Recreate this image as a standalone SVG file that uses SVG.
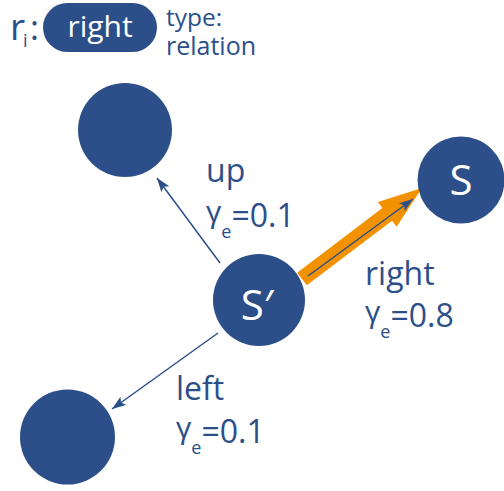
<svg xmlns="http://www.w3.org/2000/svg" width="504" height="491" viewBox="0 0 504 491">
<defs>
<style>
.node{fill:#2c4f8a}
.lbl{font-family:"Open Sans","Liberation Sans",sans-serif;fill:#2c4f8a}
.wt{font-family:"Open Sans","Liberation Sans",sans-serif;fill:#ffffff}
.edge{stroke:#2c4f8a;stroke-width:1.5;fill:none}
</style>
<marker id="ah" markerUnits="userSpaceOnUse" markerWidth="16" markerHeight="12" refX="14" refY="5" orient="auto">
<path d="M0,0 L14,5 L0,10 L3,5 Z" fill="#2c4f8a"/>
</marker>
</defs>
<g id="legend">
<text class="lbl" x="10" y="40" font-size="37">r<tspan x="23" y="47" font-size="18">i</tspan><tspan x="30" y="40" font-size="34">:</tspan></text>
<rect x="43" y="3" width="114" height="49" rx="24.5" class="node"/>
<text class="wt" x="100" y="37" font-size="30" text-anchor="middle">right</text>
<text class="lbl" x="166" y="26" font-size="24.5">type:<tspan x="166" y="55" font-size="25">relation</tspan></text>
</g>
<g id="connectors">
<g id="edge-right-highlight" transform="translate(302,279) rotate(-37.2)">
<polygon points="0,-8 107,-8 107,-15.5 150.6,0 107,15.5 107,8 0,8" fill="#f39200"/>
</g>
<line id="edge-right" class="edge" x1="308" y1="276" x2="413" y2="199" marker-end="url(#ah)"/>
<line id="edge-up" class="edge" x1="220" y1="263" x2="157" y2="178" marker-end="url(#ah)"/>
<line id="edge-left" class="edge" x1="218" y1="333" x2="112" y2="409" marker-end="url(#ah)"/>
</g>
<g id="node-up"><circle cx="125" cy="130" r="47" class="node"/></g>
<g id="node-s"><circle cx="461" cy="180" r="43.5" class="node"/>
<text class="wt" x="461" y="195" font-size="42" text-anchor="middle">S</text></g>
<g id="node-sprime"><circle cx="259" cy="300" r="46" class="node"/>
<text class="wt" x="257" y="320" font-size="42" text-anchor="middle">S′</text></g>
<g id="node-left"><circle cx="67.5" cy="437" r="47.5" class="node"/></g>
<g id="labels">
<text class="lbl" x="206" y="182" font-size="32">up</text>
<text class="lbl" x="206" y="227" font-size="32"><tspan font-size="30" dy="-5">γ</tspan><tspan font-size="18" dy="16">e</tspan><tspan dy="-11">=0.1</tspan></text>
<text class="lbl" x="365" y="285" font-size="32">right</text>
<text class="lbl" x="365" y="327" font-size="32"><tspan font-size="30" dy="-5">γ</tspan><tspan font-size="18" dy="16">e</tspan><tspan dy="-11">=0.8</tspan></text>
<text class="lbl" x="176" y="400" font-size="32">left</text>
<text class="lbl" x="176" y="443" font-size="32"><tspan font-size="30" dy="-5">γ</tspan><tspan font-size="18" dy="16">e</tspan><tspan dy="-11">=0.1</tspan></text>
</g>
</svg>
